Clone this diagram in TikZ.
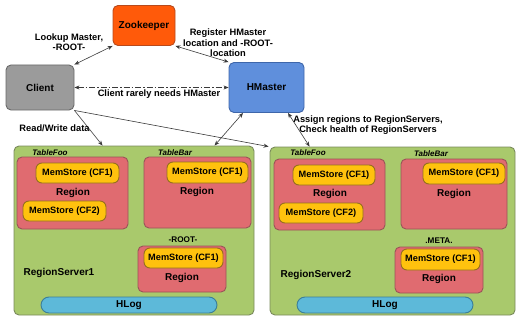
\documentclass[tikz,border=0pt]{standalone}
\usepackage{fontspec}
\setmainfont{Liberation Sans}
\usetikzlibrary{arrows.meta}
\definecolor{zkfill}{HTML}{FF5A0A}
\definecolor{zkdraw}{HTML}{B84A1C}
\definecolor{clfill}{HTML}{9B9B9B}
\definecolor{cldraw}{HTML}{6A6A6A}
\definecolor{hmfill}{HTML}{5F8FDC}
\definecolor{hmdraw}{HTML}{3E66AA}
\definecolor{rsfill}{HTML}{A9C96C}
\definecolor{rsdraw}{HTML}{7A8A5C}
\definecolor{rgfill}{HTML}{E06B70}
\definecolor{rgdraw}{HTML}{9A5458}
\definecolor{msfill}{HTML}{FFC20E}
\definecolor{msdraw}{HTML}{96701E}
\definecolor{hlfill}{HTML}{5DB9D9}
\definecolor{hldraw}{HTML}{3B7E98}
\definecolor{lncol}{HTML}{3A3A3A}
\tikzset{
  box/.style={rounded corners=5pt, line width=0.9pt, inner sep=0pt, font=\fontsize{10}{12}\selectfont\bfseries},
  zkbox/.style={box, fill=zkfill, draw=zkdraw},
  clbox/.style={box, fill=clfill, draw=cldraw},
  hmbox/.style={box, fill=hmfill, draw=hmdraw},
  rsbox/.style={box, fill=rsfill, draw=rsdraw},
  rgbox/.style={box, fill=rgfill, draw=rgdraw},
  msbox/.style={box, rounded corners=6pt, fill=msfill, draw=msdraw, font=\fontsize{9.2}{11}\selectfont\bfseries},
  hlbox/.style={box, rounded corners=8pt, fill=hlfill, draw=hldraw},
  lbl/.style={font=\fontsize{9.3}{10.6}\selectfont\bfseries, align=center, inner sep=0pt},
  rglbl/.style={font=\fontsize{10}{12}\selectfont\bfseries, inner sep=0pt},
  tbl/.style={font=\fontsize{8}{10}\selectfont\bfseries\itshape, inner sep=0pt},
  small/.style={font=\fontsize{8.2}{10}\selectfont\bfseries, inner sep=0pt},
  conn/.style={draw=lncol, line width=0.6pt},
  tip/.style={-{Stealth[length=5pt,width=4pt]}},
  dtip/.style={{Stealth[length=5pt,width=4pt]}-{Stealth[length=5pt,width=4pt]}},
}
\begin{document}
\begin{tikzpicture}[x=1pt,y=-1pt]
\useasboundingbox (0,0) rectangle (518,318);

% top nodes
\node[zkbox, minimum width=62pt, minimum height=40pt] (zk) at (144,25.5) {Zookeeper};
\node[clbox, minimum width=68pt, minimum height=45pt] (cl) at (40,87.5) {Client};
\node[hmbox, minimum width=75pt, minimum height=50pt] (hm) at (266.5,87.5) {HMaster};

% region servers
\node[rsbox, minimum width=240pt, minimum height=169pt] (rs1) at (134,230.5) {};
\node[rsbox, minimum width=245pt, minimum height=168pt] (rs2) at (392.5,231) {};

% RS1 contents
\node[tbl] (t1a) at (50,153) {TableFoo};
\node[rgbox, minimum width=111pt, minimum height=72pt] (r1a) at (72.5,193) {};
\node[msbox, minimum width=83pt, minimum height=20pt] (m1a1) at (77.5,173) {MemStore (CF1)};
\node[rglbl] (l1a) at (73,193) {Region};
\node[msbox, minimum width=83pt, minimum height=20pt] (m1a2) at (64.5,211) {MemStore (CF2)};

\node[tbl] (t1b) at (175,153) {TableBar};
\node[rgbox, minimum width=107pt, minimum height=71pt] (r1b) at (197.5,192.5) {};
\node[msbox, minimum width=81pt, minimum height=21pt] (m1b) at (207.5,172.5) {MemStore (CF1)};
\node[rglbl] (l1b) at (197,192) {Region};

\node[small] (t1c) at (183,240) {-ROOT-};
\node[rgbox, minimum width=88pt, minimum height=46pt] (r1c) at (182,269) {};
\node[msbox, minimum width=79pt, minimum height=20pt] (m1c) at (183.5,258) {MemStore (CF1)};
\node[rglbl] (l1c) at (182,278) {Region};

\node[rglbl] (n1) at (59,273) {RegionServer1};
\node[hlbox, minimum width=176pt, minimum height=16pt] (h1) at (129,305) {HLog};

% RS2 contents
\node[tbl] (t2a) at (308,153) {TableFoo};
\node[rgbox, minimum width=111pt, minimum height=71pt] (r2a) at (329.5,194.5) {};
\node[msbox, minimum width=82pt, minimum height=20pt] (m2a1) at (334,175) {MemStore (CF1)};
\node[rglbl] (l2a) at (330,194) {Region};
\node[msbox, minimum width=84pt, minimum height=20pt] (m2a2) at (321,213) {MemStore (CF2)};

\node[tbl] (t2b) at (431,154) {TableBar};
\node[rgbox, minimum width=106pt, minimum height=70pt] (r2b) at (454,194) {};
\node[msbox, minimum width=82pt, minimum height=21pt] (m2b) at (464,173.5) {MemStore (CF1)};
\node[rglbl] (l2b) at (454,194) {Region};

\node[small] (t2c) at (439,241) {.META.};
\node[rgbox, minimum width=88pt, minimum height=46pt] (r2c) at (439,270) {};
\node[msbox, minimum width=79pt, minimum height=21pt] (m2c) at (440.5,259.5) {MemStore (CF1)};
\node[rglbl] (l2c) at (439,279) {Region};

\node[rglbl] (n2) at (316,275) {RegionServer2};
\node[hlbox, minimum width=176pt, minimum height=16pt] (h2) at (385,305) {HLog};

% connectors
\draw[conn, dtip] (zk.south west) -- (cl.north east);
\draw[conn, dtip] (zk.south east) -- (hm.north west);
\draw[conn, dtip, dash pattern=on 6pt off 2pt on 1.5pt off 2pt] (cl.east) -- (hm.west);
\draw[conn, tip] (cl.south east) -- ([xshift=89pt]rs1.north west);
\draw[conn, tip] (cl.south east) -- ([xshift=-1pt]rs2.north west);
\draw[conn, dtip] ([xshift=-23.5pt]hm.south) -- ([xshift=201pt]rs1.north west);
\draw[conn, dtip] ([xshift=21.5pt]hm.south) -- ([xshift=40pt]rs2.north west);

% labels
\node[lbl] (lz1) at (69,42) {Lookup Master,\\-ROOT-};
\node[lbl] (lz2) at (228,43) {Register HMaster\\location and -ROOT-\\location};
\node[lbl] (lch) at (159,94) {Client rarely needs HMaster};
\node[lbl] (lrw) at (54.5,128) {Read/Write data};
\node[lbl] (las) at (368,125) {Assign regions to RegionServers,\\Check health of RegionServers};
\end{tikzpicture}
\end{document}
